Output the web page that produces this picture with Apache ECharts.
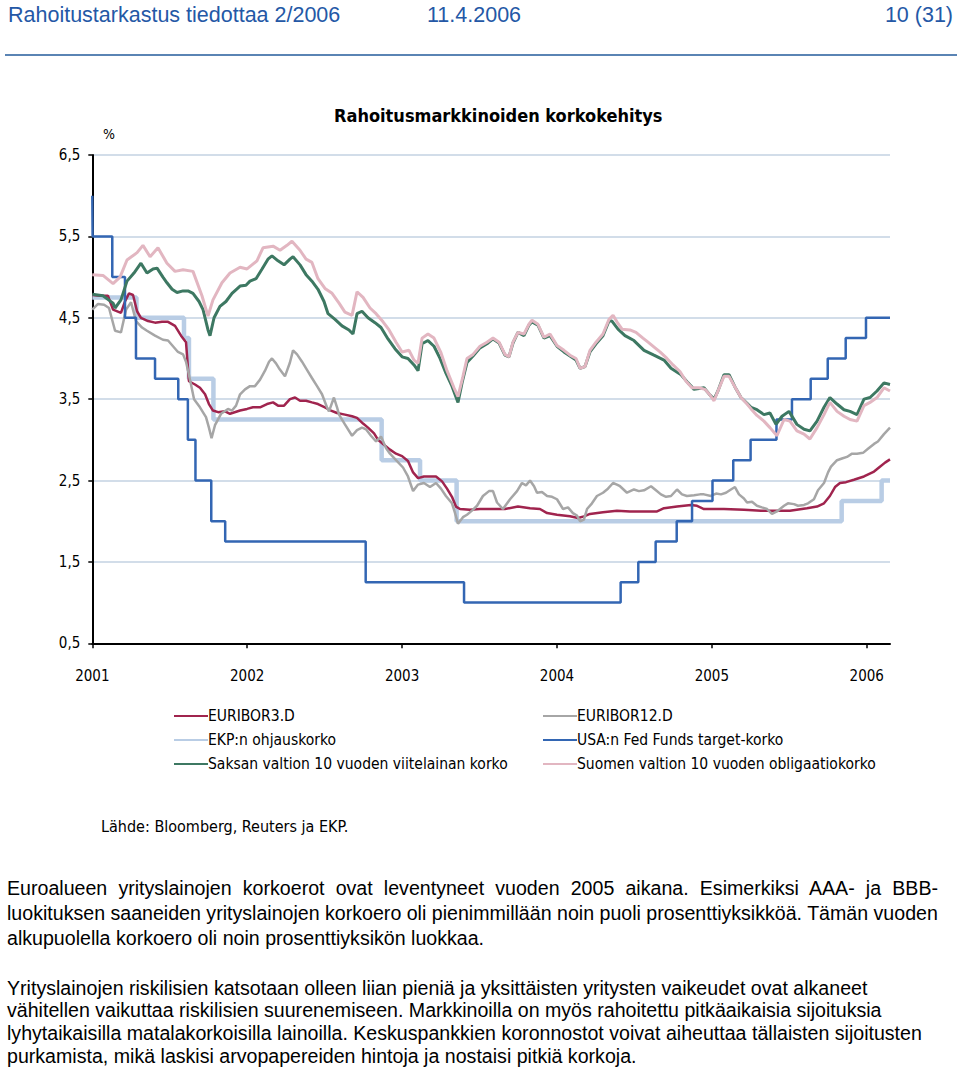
<!DOCTYPE html>
<html><head><meta charset="utf-8">
<script src="https://cdn.jsdelivr.net/npm/echarts@6/dist/echarts.min.js"></script>
<style>
html,body{margin:0;padding:0;background:#fff;}
body{width:960px;height:1069px;position:relative;overflow:hidden;font-family:'Liberation Sans',Arial,sans-serif;}
#chart{position:absolute;left:0;top:0;width:960px;height:1069px;}
.hdr{position:absolute;top:3px;font-size:21.5px;color:#2458A6;white-space:nowrap;line-height:24px;}
#rule{position:absolute;left:5px;top:54px;width:952px;height:0;border-top:2px solid #5A84B4;}
.para{position:absolute;left:7px;font-size:19.6px;color:#000;white-space:nowrap;}
.p1{line-height:25px;}
.p2{line-height:22.8px;}
.just{width:931px;text-align:justify;text-align-last:justify;}
</style></head>
<body>
<div id="chart"></div>
<div class="hdr" style="left:8px">Rahoitustarkastus tiedottaa 2/2006</div>
<div class="hdr" style="left:427px">11.4.2006</div>
<div class="hdr" style="right:7px">10 (31)</div>
<div id="rule"></div>
<div class="para p1" style="top:875.5px"><div class="just">Euroalueen yrityslainojen korkoerot ovat leventyneet vuoden 2005 aikana. Esimerkiksi AAA- ja BBB-</div><div>luokituksen saaneiden yrityslainojen korkoero oli pienimmillään noin puoli prosenttiyksikköä. Tämän vuoden</div><div>alkupuolella korkoero oli noin prosenttiyksikön luokkaa.</div></div>
<div class="para p2" style="top:976.6px">Yrityslainojen riskilisien katsotaan olleen liian pieniä ja yksittäisten yritysten vaikeudet ovat alkaneet<br>vähitellen vaikuttaa riskilisien suurenemiseen. Markkinoilla on myös rahoitettu pitkäaikaisia sijoituksia<br>lyhytaikaisilla matalakorkoisilla lainoilla. Keskuspankkien koronnostot voivat aiheuttaa tällaisten sijoitusten<br>purkamista, mikä laskisi arvopapereiden hintoja ja nostaisi pitkiä korkoja.</div>
<script>
// x values in fractional years as placed on the chart's time axis
const yearTicks = [2001, 2002, 2003, 2004, 2005, 2006];

const euribor3 = [[2001.000,4.78],[2001.050,4.77],[2001.101,4.77],[2001.134,4.6],[2001.185,4.56],[2001.211,4.7],[2001.237,4.8],[2001.263,4.78],[2001.289,4.58],[2001.314,4.5],[2001.360,4.46],[2001.405,4.44],[2001.450,4.45],[2001.489,4.45],[2001.534,4.4],[2001.573,4.28],[2001.605,4.2],[2001.624,3.72],[2001.663,3.68],[2001.695,3.64],[2001.728,3.56],[2001.753,3.44],[2001.779,3.36],[2001.812,3.34],[2001.857,3.35],[2001.889,3.32],[2001.954,3.36],[2001.999,3.38],[2002.037,3.4],[2002.083,3.4],[2002.128,3.44],[2002.167,3.46],[2002.199,3.42],[2002.238,3.42],[2002.276,3.5],[2002.309,3.52],[2002.341,3.48],[2002.380,3.48],[2002.418,3.46],[2002.457,3.44],[2002.502,3.4],[2002.541,3.36],[2002.580,3.33],[2002.631,3.31],[2002.677,3.29],[2002.709,3.27],[2002.748,3.2],[2002.780,3.15],[2002.819,3.08],[2002.845,3.0],[2002.883,2.94],[2002.922,2.88],[2002.961,2.83],[2003.000,2.8],[2003.038,2.74],[2003.071,2.6],[2003.103,2.53],[2003.141,2.55],[2003.180,2.55],[2003.219,2.55],[2003.258,2.49],[2003.290,2.4],[2003.322,2.3],[2003.348,2.18],[2003.374,2.15],[2003.438,2.14],[2003.503,2.15],[2003.587,2.15],[2003.664,2.15],[2003.748,2.18],[2003.826,2.16],[2003.890,2.15],[2003.936,2.1],[2004.000,2.08],[2004.084,2.06],[2004.136,2.04],[2004.174,2.06],[2004.213,2.09],[2004.297,2.11],[2004.387,2.13],[2004.471,2.12],[2004.646,2.12],[2004.691,2.16],[2004.775,2.18],[2004.865,2.2],[2004.904,2.19],[2004.949,2.15],[2005.078,2.15],[2005.207,2.14],[2005.317,2.13],[2005.504,2.13],[2005.614,2.16],[2005.679,2.18],[2005.724,2.22],[2005.762,2.31],[2005.795,2.42],[2005.827,2.47],[2005.866,2.48],[2005.917,2.51],[2005.982,2.55],[2006.047,2.61],[2006.085,2.67],[2006.118,2.72],[2006.150,2.76]];

const euribor12 = [[2001.000,4.6],[2001.037,4.67],[2001.076,4.66],[2001.108,4.62],[2001.147,4.34],[2001.185,4.32],[2001.218,4.6],[2001.250,4.69],[2001.282,4.46],[2001.321,4.38],[2001.353,4.34],[2001.405,4.28],[2001.456,4.23],[2001.489,4.22],[2001.521,4.15],[2001.553,4.08],[2001.586,4.05],[2001.605,3.96],[2001.624,3.8],[2001.657,3.5],[2001.695,3.4],[2001.734,3.28],[2001.753,3.15],[2001.770,3.02],[2001.792,3.18],[2001.831,3.32],[2001.876,3.38],[2001.902,3.36],[2001.928,3.42],[2001.954,3.56],[2001.986,3.62],[2002.018,3.66],[2002.050,3.66],[2002.083,3.74],[2002.115,3.85],[2002.141,3.96],[2002.160,4.0],[2002.186,3.94],[2002.205,3.88],[2002.244,3.78],[2002.276,3.95],[2002.296,4.1],[2002.322,4.05],[2002.354,3.96],[2002.386,3.86],[2002.418,3.76],[2002.451,3.66],[2002.483,3.56],[2002.515,3.4],[2002.528,3.35],[2002.560,3.52],[2002.580,3.4],[2002.593,3.31],[2002.631,3.19],[2002.677,3.05],[2002.709,3.12],[2002.741,3.15],[2002.767,3.13],[2002.799,3.05],[2002.832,2.98],[2002.864,3.04],[2002.896,2.9],[2002.922,2.83],[2002.961,2.75],[2003.006,2.66],[2003.038,2.55],[2003.071,2.37],[2003.103,2.45],[2003.141,2.47],[2003.180,2.42],[2003.219,2.47],[2003.251,2.4],[2003.283,2.31],[2003.322,2.22],[2003.342,2.1],[2003.361,1.97],[2003.393,2.05],[2003.419,2.08],[2003.451,2.13],[2003.484,2.19],[2003.522,2.31],[2003.561,2.37],[2003.587,2.37],[2003.613,2.23],[2003.651,2.15],[2003.697,2.27],[2003.742,2.37],[2003.774,2.47],[2003.800,2.44],[2003.826,2.5],[2003.852,2.43],[2003.871,2.35],[2003.903,2.36],[2003.936,2.31],[2003.968,2.3],[2004.000,2.27],[2004.039,2.15],[2004.071,2.17],[2004.103,2.1],[2004.129,2.07],[2004.149,2.0],[2004.174,2.02],[2004.194,2.15],[2004.226,2.22],[2004.258,2.31],[2004.297,2.35],[2004.329,2.4],[2004.362,2.47],[2004.387,2.45],[2004.407,2.43],[2004.452,2.35],[2004.497,2.39],[2004.529,2.37],[2004.562,2.38],[2004.607,2.43],[2004.639,2.38],[2004.671,2.33],[2004.704,2.3],[2004.736,2.31],[2004.775,2.39],[2004.807,2.33],[2004.839,2.31],[2004.885,2.32],[2004.923,2.33],[2004.949,2.33],[2004.994,2.31],[2005.027,2.34],[2005.059,2.33],[2005.091,2.35],[2005.123,2.39],[2005.149,2.42],[2005.175,2.33],[2005.207,2.28],[2005.227,2.23],[2005.259,2.24],[2005.291,2.19],[2005.323,2.17],[2005.356,2.15],[2005.388,2.09],[2005.420,2.12],[2005.466,2.19],[2005.491,2.22],[2005.530,2.21],[2005.556,2.19],[2005.595,2.2],[2005.621,2.22],[2005.659,2.27],[2005.685,2.38],[2005.724,2.47],[2005.750,2.6],[2005.769,2.67],[2005.808,2.75],[2005.840,2.77],[2005.872,2.79],[2005.905,2.83],[2005.937,2.83],[2005.976,2.84],[2006.008,2.89],[2006.047,2.95],[2006.072,2.98],[2006.111,3.07],[2006.150,3.15]];

// policy rates: [time of change, new level]
const ekp = [[2001.000,4.75],[2001.285,4.5],[2001.592,4.25],[2001.624,3.75],[2001.782,3.25],[2002.868,2.75],[2003.116,2.5],[2003.352,2.0],[2005.838,2.25],[2006.096,2.5],[2006.150,2.5]];

const fed = [[2001.000,6.0],[2001.002,5.5],[2001.129,5.0],[2001.211,4.5],[2001.282,4.0],[2001.405,3.75],[2001.555,3.5],[2001.617,3.0],[2001.666,2.5],[2001.768,2.0],[2001.858,1.75],[2002.765,1.25],[2003.400,1.0],[2004.411,1.25],[2004.525,1.5],[2004.637,1.75],[2004.773,2.0],[2004.872,2.25],[2005.004,2.5],[2005.138,2.75],[2005.250,3.0],[2005.417,3.25],[2005.517,3.5],[2005.638,3.75],[2005.748,4.0],[2005.864,4.25],[2005.995,4.5],[2006.150,4.5]];

const saksa = [[2001.000,4.79],[2001.069,4.77],[2001.134,4.68],[2001.147,4.62],[2001.185,4.72],[2001.224,4.95],[2001.269,5.05],[2001.314,5.17],[2001.353,5.05],[2001.392,5.1],[2001.418,5.11],[2001.456,5.0],[2001.482,4.93],[2001.515,4.85],[2001.547,4.81],[2001.586,4.83],[2001.618,4.83],[2001.650,4.8],[2001.689,4.7],[2001.715,4.6],[2001.747,4.35],[2001.760,4.28],[2001.786,4.5],[2001.824,4.64],[2001.863,4.7],[2001.902,4.8],[2001.954,4.89],[2001.992,4.9],[2002.018,4.95],[2002.057,4.98],[2002.096,5.1],[2002.134,5.22],[2002.160,5.26],[2002.199,5.2],[2002.238,5.15],[2002.276,5.22],[2002.296,5.25],[2002.341,5.15],[2002.380,5.03],[2002.418,4.95],[2002.457,4.85],[2002.496,4.7],[2002.522,4.55],[2002.567,4.48],[2002.612,4.4],[2002.657,4.35],[2002.683,4.3],[2002.709,4.55],[2002.741,4.58],[2002.780,4.5],[2002.825,4.44],[2002.864,4.38],[2002.909,4.24],[2002.954,4.12],[2003.000,4.02],[2003.038,4.0],[2003.077,3.92],[2003.103,3.85],[2003.129,4.18],[2003.167,4.22],[2003.206,4.15],[2003.245,4.0],[2003.283,3.82],[2003.322,3.66],[2003.361,3.46],[2003.387,3.7],[2003.419,3.95],[2003.458,4.03],[2003.503,4.13],[2003.548,4.18],[2003.587,4.24],[2003.626,4.19],[2003.664,4.04],[2003.690,4.02],[2003.716,4.19],[2003.748,4.32],[2003.787,4.28],[2003.819,4.41],[2003.839,4.45],[2003.877,4.41],[2003.916,4.25],[2003.955,4.28],[2004.000,4.15],[2004.045,4.08],[2004.084,4.03],[2004.123,3.98],[2004.149,3.88],[2004.181,3.9],[2004.213,4.08],[2004.252,4.18],[2004.297,4.28],[2004.336,4.46],[2004.355,4.46],[2004.394,4.36],[2004.439,4.28],[2004.497,4.22],[2004.562,4.1],[2004.626,4.04],[2004.691,3.98],[2004.736,3.88],[2004.801,3.8],[2004.846,3.7],[2004.885,3.62],[2004.949,3.64],[2004.988,3.55],[2005.014,3.5],[2005.039,3.6],[2005.078,3.8],[2005.111,3.8],[2005.149,3.65],[2005.188,3.52],[2005.227,3.45],[2005.253,3.4],[2005.291,3.37],[2005.336,3.31],[2005.375,3.33],[2005.414,3.19],[2005.453,3.29],[2005.498,3.35],[2005.549,3.19],[2005.595,3.13],[2005.633,3.11],[2005.679,3.23],[2005.724,3.4],[2005.762,3.52],[2005.808,3.44],[2005.853,3.37],[2005.892,3.35],[2005.937,3.31],[2005.982,3.5],[2006.021,3.52],[2006.066,3.6],[2006.111,3.7],[2006.150,3.68]];

const suomi = [[2001.000,5.03],[2001.069,5.02],[2001.134,4.92],[2001.179,5.0],[2001.224,5.21],[2001.289,5.3],[2001.327,5.39],[2001.373,5.25],[2001.424,5.36],[2001.482,5.17],[2001.534,5.07],[2001.586,5.09],[2001.650,5.07],[2001.708,4.77],[2001.747,4.52],[2001.779,4.72],[2001.837,4.93],[2001.889,5.05],[2001.954,5.12],[2001.999,5.1],[2002.063,5.2],[2002.102,5.36],[2002.167,5.38],[2002.212,5.33],[2002.257,5.39],[2002.289,5.44],[2002.341,5.33],[2002.380,5.22],[2002.418,5.18],[2002.457,4.98],[2002.502,4.86],[2002.548,4.8],[2002.593,4.68],[2002.631,4.57],[2002.677,4.53],[2002.709,4.82],[2002.748,4.75],[2002.793,4.62],[2002.832,4.55],[2002.877,4.45],[2002.916,4.35],[2002.961,4.2],[2003.000,4.08],[2003.045,4.1],[2003.077,3.98],[2003.103,3.94],[2003.129,4.25],[2003.167,4.3],[2003.206,4.25],[2003.251,4.07],[2003.290,3.85],[2003.335,3.64],[2003.361,3.53],[2003.393,3.78],[2003.419,4.0],[2003.458,4.05],[2003.503,4.15],[2003.548,4.2],[2003.587,4.25],[2003.626,4.2],[2003.664,4.05],[2003.690,4.02],[2003.716,4.2],[2003.748,4.32],[2003.787,4.3],[2003.819,4.42],[2003.839,4.47],[2003.877,4.42],[2003.916,4.26],[2003.955,4.3],[2004.000,4.16],[2004.045,4.1],[2004.084,4.04],[2004.123,4.0],[2004.149,3.88],[2004.181,3.9],[2004.213,4.1],[2004.252,4.2],[2004.297,4.3],[2004.336,4.48],[2004.362,4.53],[2004.387,4.45],[2004.420,4.36],[2004.471,4.35],[2004.510,4.32],[2004.555,4.25],[2004.588,4.2],[2004.633,4.13],[2004.665,4.08],[2004.710,4.0],[2004.749,3.92],[2004.794,3.84],[2004.833,3.72],[2004.872,3.64],[2004.917,3.64],[2004.956,3.62],[2004.988,3.55],[2005.014,3.48],[2005.039,3.6],[2005.078,3.78],[2005.111,3.78],[2005.149,3.65],[2005.188,3.52],[2005.227,3.44],[2005.253,3.38],[2005.291,3.3],[2005.336,3.23],[2005.375,3.15],[2005.420,3.05],[2005.466,3.25],[2005.504,3.23],[2005.549,3.11],[2005.595,3.07],[2005.633,3.01],[2005.679,3.15],[2005.724,3.31],[2005.762,3.46],[2005.808,3.35],[2005.853,3.29],[2005.892,3.25],[2005.937,3.23],[2005.982,3.42],[2006.021,3.46],[2006.066,3.52],[2006.111,3.64],[2006.150,3.6]];

const names = ['EURIBOR3.D','EURIBOR12.D','EKP:n ohjauskorko','USA:n Fed Funds target-korko','Saksan valtion 10 vuoden viitelainan korko','Suomen valtion 10 vuoden obligaatiokorko'];
const colors = ['#A0244E','#A6A6A6','#B9CDE5','#3366B3','#3D7862','#E2B6C1'];

const NARROW = "'Liberation Sans Narrow','DejaVu Sans Condensed','Arial Narrow',sans-serif";
const chart = echarts.init(document.getElementById('chart'), null, {renderer:'svg'});
const fmt = v => String(v.toFixed(1)).replace('.', ',');

function line(i, data, width, extra) {
  return Object.assign({
    name: names[i], type:'line', data: data, symbol:'none', showSymbol:false,
    lineStyle:{color:colors[i], width:width}, itemStyle:{color:colors[i]},
    animation:false, silent:true
  }, extra || {});
}

const legendBase = {orient:'vertical', top:703, itemGap:8, itemWidth:34, itemHeight:14,
  itemStyle:{opacity:0}, selectedMode:false,
  textStyle:{fontFamily:NARROW, fontSize:15.5, color:'#000', padding:[0,0,0,-5]}};

chart.setOption({
  animation:false,
  title:{text:'Rahoitusmarkkinoiden korkokehitys', left:329, top:101,
    textStyle:{fontFamily:NARROW, fontWeight:'bold', fontSize:18, color:'#000'}},
  grid:{left:92.3, top:155, width:797.7, height:488.3, containLabel:false},
  xAxis:{type:'value', min:2001, max:2006.15, interval:1,
    axisLine:{lineStyle:{color:'#000', width:2}},
    axisTick:{show:true, length:5, inside:false, lineStyle:{color:'#000', width:1.5}, customValues: yearTicks},
    axisLabel:{color:'#000', fontFamily:NARROW, fontSize:15, margin:25, customValues: yearTicks, formatter: v => String(Math.round(v))},
    splitLine:{show:false}},
  yAxis:{type:'value', min:0.5, max:6.5, interval:1,
    axisLine:{show:true, lineStyle:{color:'#000', width:2}},
    axisTick:{show:true, length:4, lineStyle:{color:'#000', width:1.5}},
    axisLabel:{color:'#000', fontFamily:NARROW, fontSize:15, margin:12, formatter: fmt},
    splitLine:{show:true, lineStyle:{color:'#C3D2E2', width:1.5}}},
  legend:[
    Object.assign({left:168, data:[names[0], names[2], names[4]]}, legendBase),
    Object.assign({left:537, data:[names[1], names[3], names[5]]}, legendBase)
  ],
  graphic:[
    {type:'text', left:103, top:127, style:{text:'%', fontFamily:NARROW, fontSize:14, fill:'#000'}},
    {type:'text', left:101, top:818, style:{text:'Lähde: Bloomberg, Reuters ja EKP.', fontFamily:NARROW, fontSize:16, fill:'#000'}}
  ],
  series:[
    line(2, ekp, 4.5, {step:'end', z:1}),
    line(0, euribor3, 2.5, {z:2}),
    line(1, euribor12, 2.5, {z:3}),
    line(3, fed, 2.5, {step:'end', z:4}),
    line(4, saksa, 3, {z:5}),
    line(5, suomi, 3, {z:6})
  ]
});
</script>
</body></html>
